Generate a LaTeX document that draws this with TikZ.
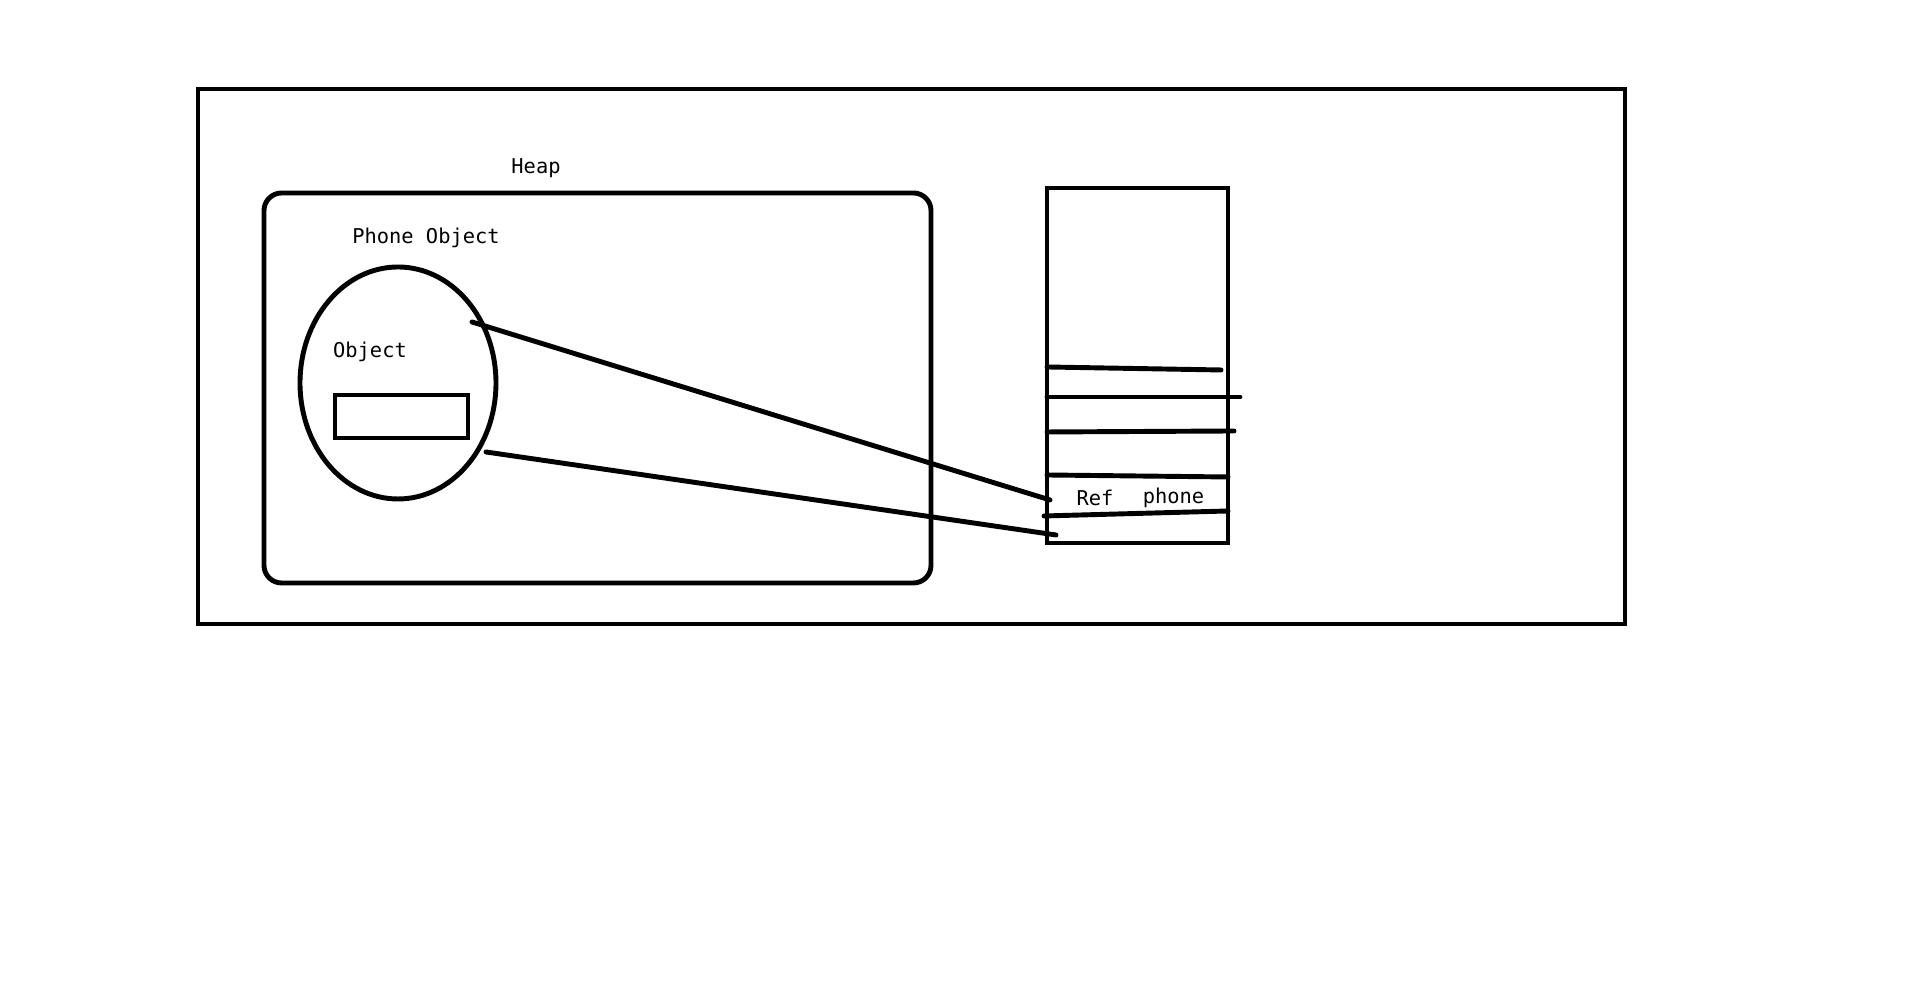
\documentclass[tikz,border=0pt]{standalone}
\usepackage{fontspec}
\setmonofont{DejaVu Sans Mono}
\usepackage{tikz}
\usetikzlibrary{positioning,shapes.geometric}

\begin{document}
\begin{tikzpicture}[
  line/.style={line width=1.4pt, line cap=round},
  lbl/.style={font=\ttfamily\fontsize{5.8}{7}\selectfont, inner sep=0pt}
]
  \useasboundingbox (0,0) rectangle (19.14,9.97);
  \draw[line] (1.98,9.08) rectangle (16.25,3.73);
  \node[lbl] (heap) at (5.36,8.29) {Heap};
  \draw[line, rounded corners=5pt] (2.64,8.04) rectangle (9.31,4.14);
  \node[lbl] (phone) at (4.26,7.59) {Phone Object};
  \node[draw, line width=1.4pt, ellipse, minimum width=1.96cm, minimum height=2.32cm,
        inner sep=0pt] (obj) at (3.98,6.14) {};
  \node[lbl] (objtxt) at (3.70,6.45) {Object};
  \node[draw, line width=1.4pt, minimum width=1.33cm, minimum height=0.43cm,
        inner sep=0pt] (field) at (4.015,5.805) {};
  \node[draw, line width=1.4pt, minimum width=1.81cm, minimum height=3.55cm,
        inner sep=0pt] (stack) at (11.375,6.315) {};
  \draw[line] (10.47,6.30) -- (12.21,6.27);
  \draw[line] (10.47,6.00) -- (12.40,6.00);
  \draw[line] (10.47,5.65) -- (12.34,5.66);
  \draw[line] (10.47,5.22) -- (12.28,5.20);
  \draw[line] (10.44,4.81) -- (12.28,4.86);
  \node[lbl] (ref) at (10.95,4.99) {Ref};
  \node[lbl, right=0.28cm of ref] (refname) {phone};
  \coordinate (a1) at (4.72,6.75);
  \coordinate (a2) at (10.50,4.97);
  \coordinate (b1) at (4.86,5.45);
  \coordinate (b2) at (10.56,4.62);
  \draw[line] (a1) -- (a2);
  \draw[line] (b1) -- (b2);
\end{tikzpicture}
\end{document}
